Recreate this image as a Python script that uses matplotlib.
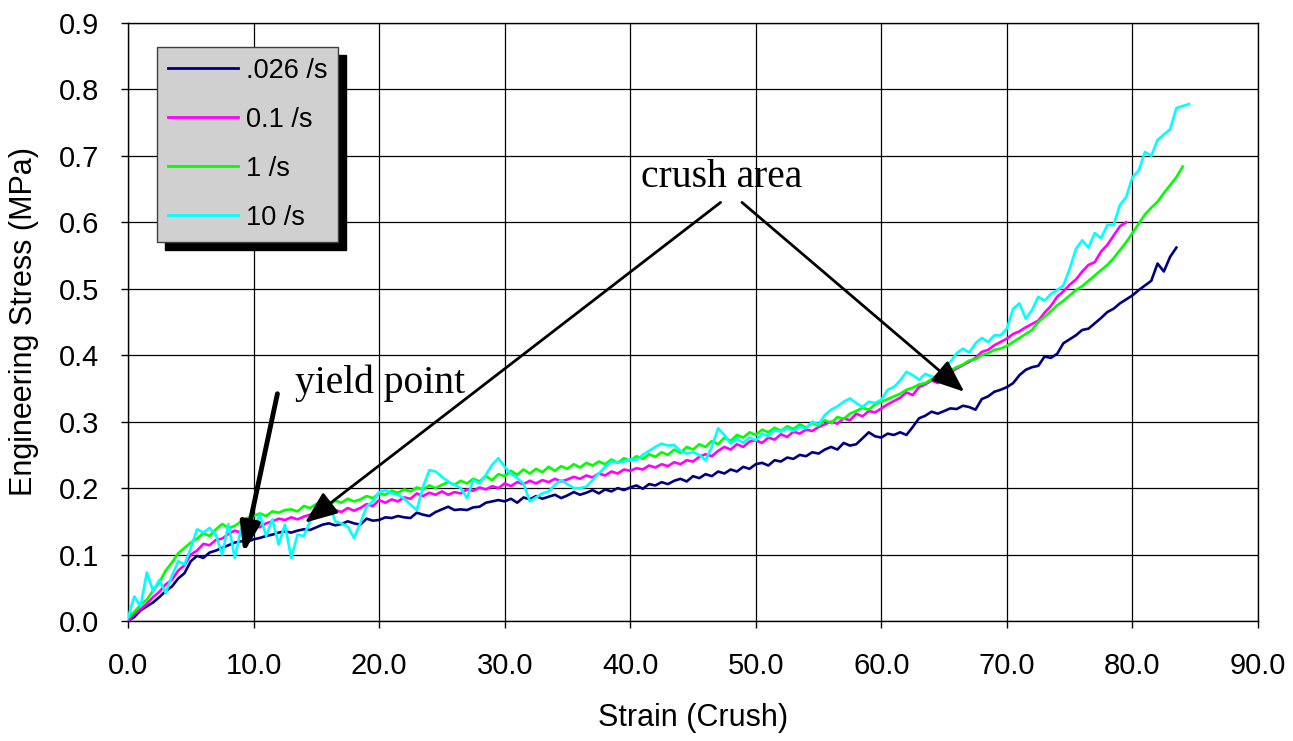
import numpy as np
import matplotlib
matplotlib.use("Agg")
import matplotlib.pyplot as plt
from matplotlib.ticker import FormatStrFormatter

plt.rcParams['font.family'] = ['Liberation Sans', 'DejaVu Sans']

# --- data (stress in kPa, every 0.5 strain) ---
STEP = 0.5

stress_0026 = [
    0, 6, 16, 22, 28, 36, 45, 52, 64, 72,
    90, 98, 95, 103, 106, 110, 114, 118, 120, 119,
    123, 125, 128, 130, 133, 135, 133, 136, 138, 137,
    141, 145, 147, 144, 146, 150, 147, 145, 154, 151,
    152, 156, 155, 158, 156, 155, 163, 160, 158, 164,
    168, 172, 167, 168, 167, 171, 172, 178, 180, 182,
    180, 184, 178, 186, 183, 188, 184, 187, 190, 185,
    189, 194, 190, 193, 197, 192, 198, 195, 200, 197,
    201, 204, 199, 206, 204, 209, 206, 211, 214, 210,
    218, 215, 221, 218, 225, 222, 228, 225, 232, 229,
    236, 238, 234, 242, 240, 246, 244, 250, 248, 254,
    252, 258, 262, 258, 268, 264, 266, 275, 284, 278,
    276, 282, 280, 284, 280, 292, 305, 309, 315, 312,
    316, 320, 319, 324, 322, 318, 334, 338, 345, 348,
    352, 358, 370, 378, 382, 384, 398, 396, 402, 418,
    424, 430, 438, 440, 448, 456, 465, 470, 478, 484,
    490, 498, 505, 512, 538, 526, 548, 562,
]

stress_01 = [
    0, 10, 18, 26, 36, 44, 55, 62, 76, 84,
    100, 106, 116, 114, 122, 124, 131, 136, 133, 140,
    143, 141, 147, 150, 154, 152, 156, 153, 157, 160,
    163, 165, 161, 167, 164, 170, 166, 170, 176, 173,
    182, 178, 183, 180, 186, 184, 192, 188, 193, 190,
    195, 190, 194, 192, 198, 196, 201, 198, 203, 200,
    207, 203, 209, 206, 211, 207, 212, 209, 214, 210,
    213, 217, 214, 219, 216, 222, 219, 225, 222, 228,
    226, 230, 228, 234, 231, 236, 233, 239, 236, 242,
    240, 247, 251, 248, 256, 262, 258, 266, 262, 270,
    272, 268, 276, 273, 281, 277, 285, 282, 288, 286,
    292, 296, 300, 297, 305, 302, 312, 308, 316, 314,
    320, 326, 331, 336, 344, 340, 352, 356, 362, 358,
    370, 374, 380, 385, 390, 396, 405, 408, 415, 420,
    425, 432, 436, 442, 447, 452, 464, 474, 488, 496,
    506, 514, 526, 536, 540, 556, 566, 580, 594, 600,
]

stress_1 = [
    5, 14, 24, 32, 46, 58, 76, 88, 102, 110,
    118, 124, 132, 128, 138, 146, 140, 143, 150, 155,
    158, 162, 158, 165, 163, 167, 168, 165, 173, 170,
    176, 178, 174, 181, 178, 184, 180, 183, 188, 185,
    192, 190, 196, 193, 198, 195, 201, 198, 204, 200,
    205, 209, 205, 211, 207, 214, 210, 218, 212, 221,
    218, 226, 220, 228, 222, 229, 224, 232, 226, 233,
    229, 236, 231, 238, 234, 240, 236, 243, 238, 245,
    241, 248, 244, 251, 247, 254, 250, 258, 253, 262,
    258, 266, 262, 271, 266, 276, 271, 280, 276, 284,
    280, 288, 284, 291, 286, 293, 289, 296, 291, 298,
    294, 302, 298, 307, 304, 312, 316, 321, 318, 326,
    330, 334, 338, 342, 348, 351, 356, 358, 364, 368,
    372, 377, 382, 386, 392, 394, 400, 403, 408, 410,
    414, 420, 426, 432, 438, 450, 458, 466, 475, 482,
    490, 498, 504, 512, 520, 528, 536, 546, 558, 570,
    584, 598, 612, 622, 631, 644, 656, 668, 684,
]

stress_10 = [
    5, 37, 22, 73, 45, 62, 42, 68, 90, 85,
    110, 138, 133, 140, 130, 100, 146, 95, 138, 128,
    140, 160, 128, 153, 115, 145, 95, 130, 128, 150,
    165, 175, 180, 150, 147, 142, 125, 147, 172, 180,
    194, 197, 192, 190, 184, 175, 167, 202, 227, 225,
    217, 210, 205, 200, 185, 212, 207, 220, 235, 245,
    232, 222, 215, 207, 180, 186, 192, 195, 205, 212,
    206, 200, 200, 202, 212, 222, 232, 240, 238, 240,
    243, 242, 250, 256, 262, 267, 264, 265, 256, 252,
    254, 250, 242, 262, 290, 280, 267, 274, 268, 276,
    272, 282, 278, 287, 285, 290, 286, 292, 290, 300,
    296, 310, 318, 323, 330, 335, 328, 322, 330, 328,
    333, 348, 352, 362, 375, 370, 363, 372, 368, 366,
    380, 390, 403, 410, 404, 418, 426, 420, 430, 430,
    440, 470, 478, 455, 468, 488, 482, 492, 498, 505,
    530, 560, 573, 562, 584, 576, 596, 596, 626, 638,
    668, 678, 706, 700, 724, 732, 740, 772, 775, 778,
]

series_labels = ['.026 /s', '0.1 /s', '1 /s', '10 /s']
series_colors = ['#000080', '#FF00FF', '#00FF00', '#00FFFF']
series_values = [stress_0026, stress_01, stress_1, stress_10]

x_ticks = np.arange(0, 91, 10)
y_ticks = np.arange(0, 0.91, 0.1)

# annotation anchors (data coords)
CRUSH_TEXT = (47.3, 0.668)
CRUSH_TAIL_L = (47.2, 0.630)
CRUSH_HEAD_L = (14.1, 0.148)
CRUSH_TAIL_R = (48.9, 0.630)
CRUSH_HEAD_R = (66.6, 0.345)
YIELD_TEXT = (13.3, 0.358)
YIELD_TAIL = (11.9, 0.342)
YIELD_HEAD = (9.2, 0.102)

W, H = 1293, 741
fig = plt.figure(figsize=(W / 100, H / 100), dpi=100)
ax = fig.add_axes([128 / W, 120 / H, 1130 / W, 598 / H])

for vals, lab, col in zip(series_values, series_labels, series_colors):
    y = np.array(vals) / 1000.0
    x = np.arange(len(y)) * STEP
    ax.plot(x, y, color=col, lw=1.9, label=lab, zorder=3)

ax.set_xlim(0, 90)
ax.set_ylim(0, 0.9)
ax.set_xticks(x_ticks)
ax.set_yticks(y_ticks)
ax.xaxis.set_major_formatter(FormatStrFormatter('%.1f'))
ax.yaxis.set_major_formatter(FormatStrFormatter('%.1f'))
ax.tick_params(axis='both', direction='out', length=5, width=1, labelsize=21)
ax.tick_params(axis='x', pad=17)
ax.tick_params(axis='y', pad=16)
ax.grid(True, color='black', lw=0.9, zorder=1)
ax.set_axisbelow(True)
for sp in ax.spines.values():
    sp.set_color('black')
    sp.set_linewidth(1.0)

ax.set_xlabel('Strain (Crush)', fontsize=22)
ax.set_ylabel('Engineering Stress (MPa)', fontsize=22)
ax.xaxis.set_label_coords(0.5, -(703 - 621) / 598)
ax.yaxis.set_label_coords(-(128 - 39) / 1130, 0.5)

# --- annotations ---
serif = ['Liberation Serif', 'DejaVu Serif']
ax.text(*CRUSH_TEXT, 'crush area', family=serif, fontsize=28.5, ha='center', va='center')
ax.text(*YIELD_TEXT, 'yield point', family=serif, fontsize=28.5, ha='left', va='center')

thin = dict(arrowstyle='-|>,head_length=1.0,head_width=0.4', color='black', lw=2,
            mutation_scale=20, shrinkA=0, shrinkB=0)
thick = dict(arrowstyle='-|>,head_length=0.9,head_width=0.3', color='black', lw=3.5,
             mutation_scale=20, shrinkA=0, shrinkB=0)
ax.annotate('', xy=CRUSH_HEAD_L, xytext=CRUSH_TAIL_L, arrowprops=thin, zorder=5)
ax.annotate('', xy=CRUSH_HEAD_R, xytext=CRUSH_TAIL_R, arrowprops=thin, zorder=5)
ax.annotate('', xy=YIELD_HEAD, xytext=YIELD_TAIL, arrowprops=thick, zorder=5)

# --- legend with a hard black drop shadow ---
leg = ax.legend(loc='upper left', bbox_to_anchor=(157 / W, 1 - 47 / H),
                bbox_transform=fig.transFigure, borderaxespad=0,
                fontsize=19.5, frameon=True, fancybox=False,
                handlelength=2.6, handletextpad=0.28, labelspacing=0.85,
                borderpad=0.4,
                shadow={'ox': 6, 'oy': -6, 'facecolor': 'black',
                        'edgecolor': 'black', 'alpha': 1})
leg.get_frame().set_facecolor('#d0d0d0')
leg.get_frame().set_edgecolor('#404040')
leg.get_frame().set_linewidth(1.0)
leg.get_frame().set_alpha(1)
leg.set_zorder(6)
for line in leg.get_lines():
    line.set_linewidth(2)

fig.savefig('out.png', dpi=100)
